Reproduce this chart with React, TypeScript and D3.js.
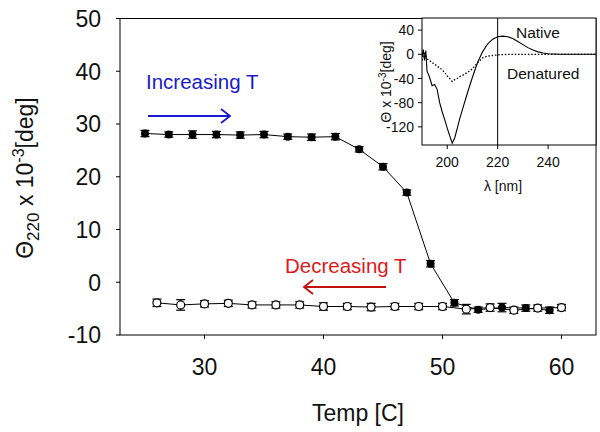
import * as d3 from 'd3';

const width = 600;
const height = 432;

// main data
const heatTemp = [25, 27, 29, 31, 33, 35, 37, 39, 41, 43, 45, 47, 49, 51, 53, 55, 57, 59];
const heatTheta = [28.2, 28.0, 28.0, 28.0, 27.9, 28.0, 27.6, 27.5, 27.6, 25.2, 21.9, 17.0, 3.5, -3.9, -5.2, -4.8, -4.9, -5.3];
const heatErr = [0.6, 0.5, 0.7, 0.6, 0.6, 0.6, 0.5, 0.6, 0.6, 0.5, 0.6, 0.5, 0.6, 0.6, 0.5, 0.8, 0.6, 0.6];

const coolTemp = [26, 28, 30, 32, 34, 36, 38, 40, 42, 44, 46, 48, 50, 52, 54, 56, 58, 60];
const coolTheta = [-3.9, -4.3, -4.1, -4.0, -4.3, -4.3, -4.3, -4.6, -4.6, -4.7, -4.6, -4.6, -4.6, -5.1, -4.8, -5.3, -4.9, -4.8];
const coolErr = [0.7, 1.0, 0.6, 0.6, 0.6, 0.6, 0.6, 0.7, 0.6, 0.7, 0.6, 0.6, 0.6, 0.9, 0.7, 0.6, 0.6, 0.6];

const xTicks = [30, 40, 50, 60];
const yTicks = [-10, 0, 10, 20, 30, 40, 50];

// inset spectra
const nativeWl = [190, 190.5, 191, 191.5, 192, 193, 194, 195, 196, 197, 198, 199, 200, 201, 202, 203, 204, 205, 206, 208, 210, 212, 214, 216, 218, 220, 222, 224, 226, 228, 230, 232, 234, 236, 238, 240, 245, 250, 255, 260];
const nativeTheta = [-5, 8, -10, 6, -28, -38, -52, -50, -58, -80, -95, -108, -122, -135, -147, -138, -122, -106, -92, -64, -38, -14, 4, 17, 25, 29, 30, 29, 26, 21, 16, 11, 7, 4, 2, 1, 0, 0, 0, 0];
const denatWl = [190, 191, 192, 193, 194, 195, 196, 197, 198, 199, 200, 201, 202, 203, 204, 205, 206, 208, 210, 212, 214, 216, 218, 220, 225, 230, 240, 250, 260];
const denatTheta = [-10, 4, -8, -10, -14, -16, -20, -22, -26, -30, -36, -40, -45, -42, -40, -37, -35, -30, -24, -14, -6, -3, -2, -1, 0, 0, 0, 0, 0];
const insetXTicks = [200, 220, 240];
const insetYTicks = [40, 0, -40, -80, -120];

const font = '"Liberation Sans", Arial, sans-serif';

const x = d3.scaleLinear().domain([22.9, 62.9]).range([120, 596]);
const y = d3.scaleLinear().domain([-10, 50]).range([335, 18.5]);

const ix = d3.scaleLinear().domain([190, 259]).range([422, 596]);
const iy = d3.scaleLinear().domain([-150, 60]).range([145, 18]);

const App = () => {
  const heat = heatTemp.map((t, i) => ({ t, v: heatTheta[i], e: heatErr[i] }));
  const cool = coolTemp.map((t, i) => ({ t, v: coolTheta[i], e: coolErr[i] }));
  const line = d3.line<{ t: number; v: number }>().x(d => x(d.t)).y(d => y(d.v));
  const native = nativeWl.map((w, i) => [w, nativeTheta[i]] as [number, number]);
  const denat = denatWl.map((w, i) => [w, denatTheta[i]] as [number, number]);
  const iline = d3.line<[number, number]>().x(d => ix(d[0])).y(d => iy(d[1]));

  const errBars = (pts: { t: number; v: number; e: number }[]) =>
    pts.map((d, i) => (
      <g key={i} stroke="#000" strokeWidth={1.2}>
        <line x1={x(d.t)} x2={x(d.t)} y1={y(d.v - d.e)} y2={y(d.v + d.e)} />
        <line x1={x(d.t) - 4.5} x2={x(d.t) + 4.5} y1={y(d.v - d.e)} y2={y(d.v - d.e)} />
        <line x1={x(d.t) - 4.5} x2={x(d.t) + 4.5} y1={y(d.v + d.e)} y2={y(d.v + d.e)} />
      </g>
    ));

  return (
    <svg width={width} height={height} style={{ position: 'absolute', left: 0, top: 0, background: '#fff' }} fontFamily={font}>
      <defs>
        <clipPath id="insetClip">
          <rect x={422} y={18} width={174} height={127} />
        </clipPath>
      </defs>

      {/* frame */}
      <rect x={120} y={18.5} width={476} height={316.5} fill="none" stroke="#000" strokeWidth={1} />

      {/* y axis */}
      {yTicks.map(t => (
        <g key={t}>
          <line x1={116} x2={120} y1={y(t)} y2={y(t)} stroke="#000" />
          <text x={101} y={y(t)} dy="0.36em" textAnchor="end" fontSize={23} fill="#111">{t}</text>
        </g>
      ))}
      {/* x axis */}
      {xTicks.map(t => (
        <g key={t}>
          <line x1={x(t)} x2={x(t)} y1={335} y2={339} stroke="#000" />
          <text x={x(t)} y={375} textAnchor="middle" fontSize={23} fill="#111">{t}</text>
        </g>
      ))}
      <text x={358} y={421} textAnchor="middle" fontSize={23} fill="#111">Temp [C]</text>
      <text transform="translate(33,178) rotate(-90)" textAnchor="middle" fontSize={23} fill="#111">
        Θ<tspan fontSize={17} dy={6}>220</tspan>
        <tspan dy={-6}> x 10</tspan>
        <tspan fontSize={16} dy={-9}>-3</tspan>
        <tspan dy={9}>[deg]</tspan>
      </text>

      {/* series */}
      <path d={line(cool) ?? ''} fill="none" stroke="#000" strokeWidth={1} />
      <path d={line(heat) ?? ''} fill="none" stroke="#000" strokeWidth={1} />
      {errBars(cool)}
      {errBars(heat)}
      {cool.map((d, i) => (
        <circle key={i} cx={x(d.t)} cy={y(d.v)} r={4} fill="#fff" stroke="#000" strokeWidth={1.2} />
      ))}
      {heat.map((d, i) => (
        <circle key={i} cx={x(d.t)} cy={y(d.v)} r={4} fill="#000" />
      ))}

      {/* annotations */}
      <text x={146} y={89} fontSize={20.5} fill="#1a1acc">Increasing T</text>
      <g stroke="#1a1acc" strokeWidth={1.8} fill="none">
        <line x1={148} x2={230} y1={116} y2={116} />
        <polyline points="221,109 230,116 221,123" />
      </g>
      <text x={285} y={273} fontSize={20.5} fill="#e01a1a">Decreasing T</text>
      <g stroke="#c01010" strokeWidth={1.8} fill="none">
        <line x1={304} x2={386} y1={287} y2={287} />
        <polyline points="313,280 304,287 313,294" />
      </g>

      {/* inset */}
      <rect x={422} y={18} width={174} height={127} fill="#fff" stroke="#000" strokeWidth={1} />
      <g clipPath="url(#insetClip)">
        <line x1={ix(220)} x2={ix(220)} y1={18} y2={145} stroke="#000" strokeWidth={1} />
        <path d={iline(denat) ?? ''} fill="none" stroke="#000" strokeWidth={1.3} strokeDasharray="1.5,1.8" />
        <path d={iline(native) ?? ''} fill="none" stroke="#000" strokeWidth={1.1} />
      </g>
      {insetYTicks.map(t => (
        <g key={t}>
          <line x1={418} x2={422} y1={iy(t)} y2={iy(t)} stroke="#000" />
          <text x={414} y={iy(t)} dy="0.36em" textAnchor="end" fontSize={14} fill="#111">{t}</text>
        </g>
      ))}
      {insetXTicks.map(t => (
        <g key={t}>
          <line x1={ix(t)} x2={ix(t)} y1={145} y2={149} stroke="#000" />
          <text x={ix(t)} y={167} textAnchor="middle" fontSize={14} fill="#111">{t}</text>
        </g>
      ))}
      <text x={503} y={191} textAnchor="middle" fontSize={14} fill="#111">λ [nm]</text>
      <text transform="translate(391,82) rotate(-90)" textAnchor="middle" fontSize={14} fill="#111">
        Θ x 10<tspan fontSize={10} dy={-5}>-3</tspan><tspan dy={5}>[deg]</tspan>
      </text>
      <text x={516} y={38} fontSize={15.5} fill="#111">Native</text>
      <text x={507} y={79} fontSize={15.5} fill="#111">Denatured</text>
    </svg>
  );
};

export default App;
